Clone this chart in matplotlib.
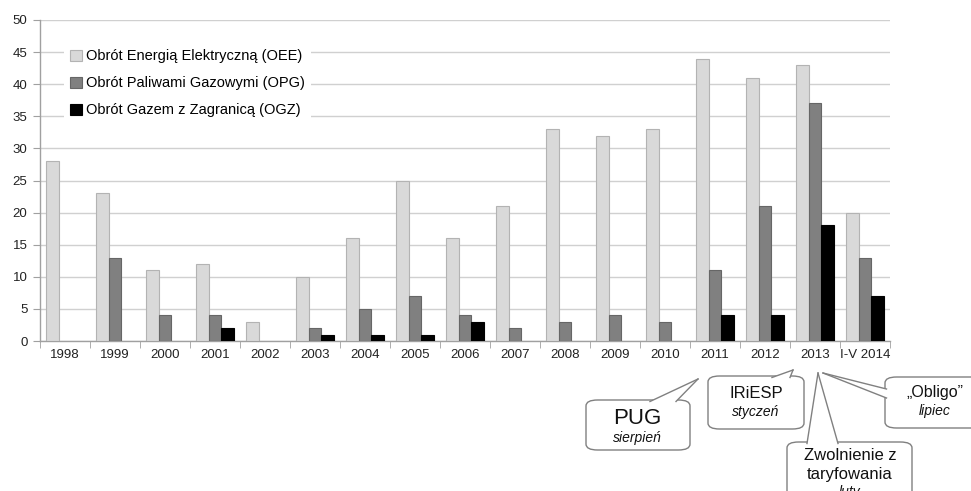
import matplotlib
matplotlib.use("Agg")
import matplotlib.pyplot as plt
from matplotlib.patches import FancyBboxPatch, Polygon
from matplotlib.lines import Line2D
import numpy as np

categories = ["1998", "1999", "2000", "2001", "2002", "2003", "2004", "2005", "2006",
              "2007", "2008", "2009", "2010", "2011", "2012", "2013", "I-V 2014"]
oee = [28, 23, 11, 12, 3, 10, 16, 25, 16, 21, 33, 32, 33, 44, 41, 43, 20]
opg = [0, 13, 4, 4, 0, 2, 5, 7, 4, 2, 3, 4, 3, 11, 21, 37, 13]
ogz = [0, 0, 0, 2, 0, 1, 1, 1, 3, 0, 0, 0, 0, 4, 4, 18, 7]
series_names = ["Obrót Energią Elektryczną (OEE)", "Obrót Paliwami Gazowymi (OPG)",
                "Obrót Gazem z Zagranicą (OGZ)"]
yticks = [0, 5, 10, 15, 20, 25, 30, 35, 40, 45, 50]

plt.rcParams['font.family'] = ['Liberation Sans', 'DejaVu Sans']

W, H = 971, 491
fig = plt.figure(figsize=(W / 100, H / 100), dpi=100)
ax = fig.add_axes([40 / W, 1 - 341 / H, 850 / W, 321 / H])

x = np.arange(len(categories))
bw = 0.25

def nz(v):
    a = np.array(v, dtype=float)
    a[a == 0] = np.nan
    return a

ax.bar(x - bw, nz(oee), bw, color="#d9d9d9", edgecolor="#b3b3b3", linewidth=0.8, label=series_names[0], zorder=3)
ax.bar(x, nz(opg), bw, color="#808080", edgecolor="#666666", linewidth=0.8, label=series_names[1], zorder=3)
ax.bar(x + bw, nz(ogz), bw, color="#000000", edgecolor="#000000", linewidth=0.8, label=series_names[2], zorder=3)

ax.set_xlim(-0.5, len(categories) - 0.5)
ax.set_ylim(0, 50)
ax.set_yticks(yticks)
ax.set_yticklabels([str(v) for v in yticks], fontsize=9.5, color="#222222")
ax.set_xticks(x)
ax.set_xticklabels(categories, fontsize=9.5, color="#222222")
ax.set_xticks(np.arange(-0.5, len(categories), 1), minor=True)
ax.tick_params(axis="x", which="major", length=0, pad=6)
ax.tick_params(axis="x", which="minor", length=5, color="#a0a0a0", direction="out")
ax.tick_params(axis="y", length=5, color="#a0a0a0", direction="out", pad=4)
ax.yaxis.grid(True, color="#d0d0d0", linewidth=1, zorder=0)
ax.set_axisbelow(True)
for s in ["top", "right"]:
    ax.spines[s].set_visible(False)
for s in ["left", "bottom"]:
    ax.spines[s].set_color("#a0a0a0")
    ax.spines[s].set_linewidth(1)

leg = ax.legend(loc="upper left", bbox_to_anchor=(0.02, 0.95), fontsize=10.5, frameon=True,
                facecolor="white", edgecolor="none", framealpha=1, handlelength=0.8,
                handleheight=0.8, handletextpad=0.3, labelspacing=0.9, borderpad=0.4)
leg.set_zorder(5)

# callouts in figure pixel coordinates
def P(px, py):
    return (px / W, 1 - py / H)

def callout(x0, y0, x1, y1, tail, lines):
    bx, by = P(x0, y1)
    w = (x1 - x0) / W
    h = (y1 - y0) / H
    box = FancyBboxPatch((bx, by), w, h, boxstyle="round,pad=0,rounding_size=0.012",
                         transform=fig.transFigure, facecolor="white", edgecolor="#808080",
                         linewidth=1, zorder=10)
    fig.patches.append(box)
    (ax_, ay_), (tx, ty), (cx, cy) = tail
    tri = Polygon([P(ax_, ay_), P(tx, ty), P(cx, cy)], closed=True, transform=fig.transFigure,
                  facecolor="white", edgecolor="none", zorder=11)
    fig.patches.append(tri)
    fig.lines.append(Line2D(*zip(P(ax_, ay_), P(tx, ty)), transform=fig.transFigure,
                            color="#808080", linewidth=1, zorder=12))
    fig.lines.append(Line2D(*zip(P(tx, ty), P(cx, cy)), transform=fig.transFigure,
                            color="#808080", linewidth=1, zorder=12))
    for (tx_, ty_, s, size, style) in lines:
        fig.text(*P(tx_, ty_), s, ha="center", va="center", fontsize=size, style=style,
                 color="#111111", zorder=13)

callout(586, 400, 690, 450, [(650, 401.5), (698, 379), (676, 401.5)],
        [(637, 418, "PUG", 16, "normal"), (637, 438, "sierpień", 10, "italic")])
callout(708, 376, 804, 429, [(772, 377.5), (793, 370), (790, 377.5)],
        [(756, 393, "IRiESP", 12, "normal"), (756, 412, "styczeń", 10, "italic")])
callout(787, 442, 912, 520, [(807, 443.5), (818, 373), (838, 443.5)],
        [(850, 456, "Zwolnienie z", 12, "normal"), (850, 475, "taryfowania", 12, "normal"),
         (850, 492, "luty", 10, "italic")])
callout(885, 377, 1000, 428, [(886.5, 389), (823, 373), (886.5, 398)],
        [(935, 393, "„Obligo”", 11.5, "normal"), (935, 411, "lipiec", 10, "italic")])

fig.savefig("out.png", dpi=100)
